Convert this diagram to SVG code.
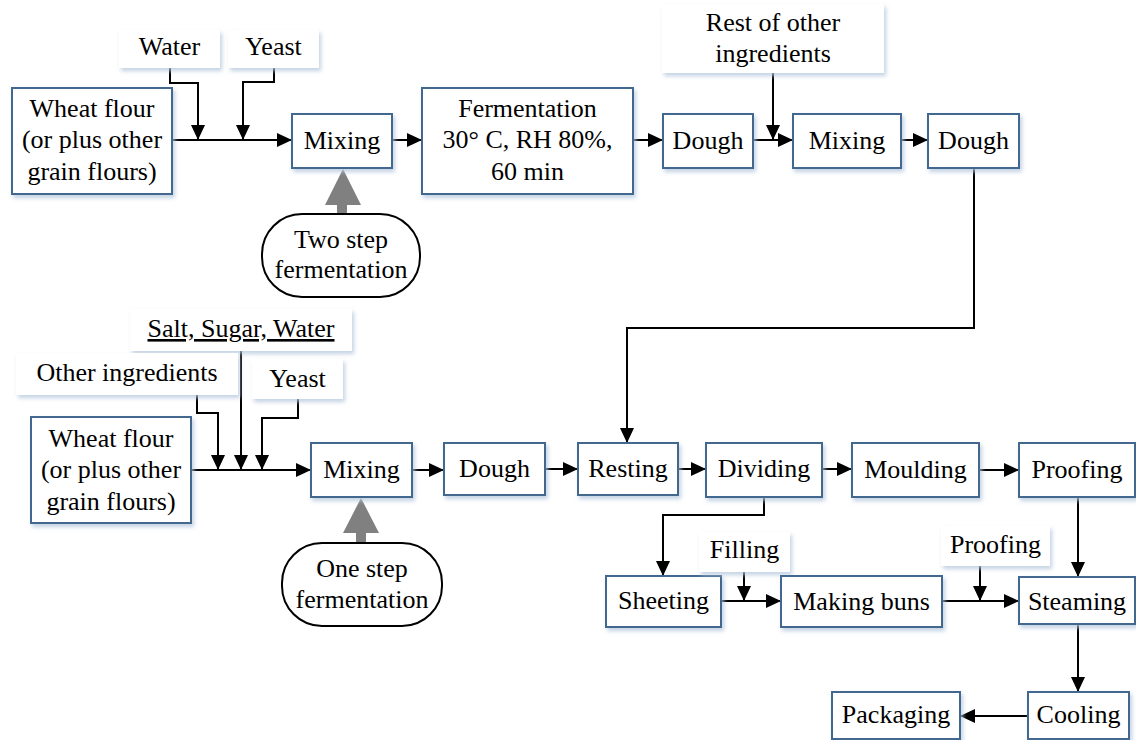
<svg xmlns="http://www.w3.org/2000/svg" width="1136" height="740" viewBox="0 0 1136 740">
<style>
.box{fill:#fff;stroke:#42678f;stroke-width:2;filter:url(#sh)}
.lbl{fill:#fff;stroke:none;filter:url(#sh)}
.oval{fill:#fff;stroke:#000;stroke-width:2}
.t{font-family:'Liberation Serif','DejaVu Serif',serif;font-size:26px;fill:#000;text-anchor:middle}
.ln{fill:none;stroke:#000;stroke-width:2}
.ar{fill:none;stroke:#000;stroke-width:2;marker-end:url(#ah)}
.gray{fill:#808080;stroke:none}
</style>
<defs>
<filter id="sh" x="-10%" y="-10%" width="130%" height="140%">
<feDropShadow dx="2" dy="3" stdDeviation="2" flood-color="#b4c6dc" flood-opacity="0.8"/>
</filter>
<marker id="ah" markerUnits="userSpaceOnUse" markerWidth="15" markerHeight="14" refX="14" refY="7" orient="auto">
<path d="M0,0 L15,7 L0,14 z" fill="#000"/>
</marker>
</defs>
<rect width="1136" height="740" fill="#fff"/>

<g id="connectors">
<polyline class="ar" points="170,68 170,83 198,83 198,139"/>
<polyline class="ar" points="274,68 274,82 243,82 243,139"/>
<line class="ar" x1="172" y1="140" x2="291" y2="140"/>
<line class="ar" x1="392" y1="140" x2="421" y2="140"/>
<line class="ar" x1="633" y1="140" x2="662" y2="140"/>
<line class="ar" x1="773" y1="73" x2="773" y2="139"/>
<line class="ar" x1="753" y1="140" x2="792" y2="140"/>
<line class="ar" x1="901" y1="140" x2="927" y2="140"/>
<polyline class="ar" points="974,168 974,328 627,328 627,442"/>
<polyline class="ar" points="197,395 197,413 218,413 218,469"/>
<line class="ar" x1="241" y1="351" x2="241" y2="469"/>
<polyline class="ar" points="298,399 298,418 262,418 262,469"/>
<line class="ar" x1="191" y1="470" x2="310" y2="470"/>
<line class="ar" x1="412" y1="470" x2="443" y2="470"/>
<line class="ar" x1="545" y1="469" x2="577" y2="469"/>
<line class="ar" x1="678" y1="469" x2="705" y2="469"/>
<line class="ar" x1="822" y1="469" x2="851" y2="469"/>
<line class="ar" x1="979" y1="470" x2="1018" y2="470"/>
<polyline class="ar" points="764,497 764,515 663,515 663,575"/>
<line class="ar" x1="744" y1="572" x2="744" y2="600"/>
<line class="ar" x1="721" y1="601" x2="780" y2="601"/>
<line class="ar" x1="980" y1="566" x2="980" y2="600"/>
<line class="ar" x1="942" y1="601" x2="1018" y2="601"/>
<line class="ar" x1="1078" y1="497" x2="1078" y2="576"/>
<line class="ar" x1="1078" y1="624" x2="1078" y2="691"/>
<line class="ar" x1="1028" y1="716" x2="961" y2="716"/>
<path class="gray" d="M337,218 L337,205 L325,205 L343,169 L361,205 L347,205 L347,218 Q342,222 337,218 z"/>
<path class="gray" d="M356,547 L356,533 L343,533 L361,498 L379,533 L366,533 L366,547 Q361,551 356,547 z"/>
</g>

<g id="water-top"><rect class="lbl" x="119" y="30" width="101" height="38"/><text class="t" x="169.5" y="55">Water</text></g>
<g id="yeast-top"><rect class="lbl" x="228" y="30" width="91" height="38"/><text class="t" x="273.5" y="55">Yeast</text></g>
<g id="flour-top"><rect class="box" x="12" y="88" width="160" height="106"/>
<text class="t" x="92" y="117">Wheat flour</text><text class="t" x="92" y="148">(or plus other</text><text class="t" x="92" y="180">grain flours)</text></g>
<g id="mixing-top"><rect class="box" x="292" y="114" width="100" height="54"/><text class="t" x="342" y="149">Mixing</text></g>
<g id="two-step"><rect class="oval" x="262" y="214" width="158" height="83" rx="40" ry="40"/>
<text class="t" x="341" y="248">Two step</text><text class="t" x="341" y="278">fermentation</text></g>
<g id="fermentation"><rect class="box" x="422" y="88" width="211" height="106"/>
<text class="t" x="527.5" y="117">Fermentation</text><text class="t" x="527.5" y="148">30° C, RH 80%,</text><text class="t" x="527.5" y="180">60 min</text></g>
<g id="dough-top1"><rect class="box" x="663" y="114" width="90" height="54"/><text class="t" x="708" y="149">Dough</text></g>
<g id="rest-ingredients"><rect class="lbl" x="662" y="4" width="222" height="69"/>
<text class="t" x="773" y="31">Rest of other</text><text class="t" x="773" y="62">ingredients</text></g>
<g id="mixing-top2"><rect class="box" x="793" y="114" width="108" height="54"/><text class="t" x="847" y="149">Mixing</text></g>
<g id="dough-top2"><rect class="box" x="928" y="114" width="91" height="54"/><text class="t" x="973.5" y="149">Dough</text></g>

<g id="salt-sugar-water"><rect class="lbl" x="130" y="309" width="222" height="42"/>
<text class="t" x="241" y="337" text-decoration="underline">Salt, Sugar, Water</text></g>
<g id="other-ingredients"><rect class="lbl" x="16" y="353" width="222" height="42"/><text class="t" x="127" y="381">Other ingredients</text></g>
<g id="yeast-bottom"><rect class="lbl" x="252" y="359" width="91" height="40"/><text class="t" x="297.5" y="387">Yeast</text></g>
<g id="flour-bottom"><rect class="box" x="31" y="417" width="160" height="106"/>
<text class="t" x="111" y="447">Wheat flour</text><text class="t" x="111" y="478">(or plus other</text><text class="t" x="111" y="510">grain flours)</text></g>
<g id="mixing-bottom"><rect class="box" x="311" y="443" width="101" height="54"/><text class="t" x="361.5" y="478">Mixing</text></g>
<g id="one-step"><rect class="oval" x="282" y="543" width="160" height="83" rx="40" ry="40"/>
<text class="t" x="362" y="577">One step</text><text class="t" x="362" y="608">fermentation</text></g>
<g id="dough-bottom"><rect class="box" x="444" y="443" width="101" height="52"/><text class="t" x="494.5" y="477">Dough</text></g>
<g id="resting"><rect class="box" x="578" y="443" width="100" height="52"/><text class="t" x="628" y="477">Resting</text></g>
<g id="dividing"><rect class="box" x="706" y="443" width="116" height="54"/><text class="t" x="764" y="477">Dividing</text></g>
<g id="moulding"><rect class="box" x="852" y="443" width="127" height="54"/><text class="t" x="915.5" y="478">Moulding</text></g>
<g id="proofing"><rect class="box" x="1019" y="443" width="116" height="54"/><text class="t" x="1077" y="478">Proofing</text></g>
<g id="sheeting"><rect class="box" x="606" y="576" width="115" height="51"/><text class="t" x="663.5" y="609">Sheeting</text></g>
<g id="filling"><rect class="lbl" x="699" y="532" width="91" height="40"/><text class="t" x="744.5" y="558">Filling</text></g>
<g id="making-buns"><rect class="box" x="781" y="576" width="161" height="51"/><text class="t" x="861.5" y="610">Making buns</text></g>
<g id="proofing-label"><rect class="lbl" x="941" y="526" width="109" height="40"/><text class="t" x="995.5" y="553">Proofing</text></g>
<g id="steaming"><rect class="box" x="1019" y="577" width="116" height="47"/><text class="t" x="1077" y="610">Steaming</text></g>
<g id="cooling"><rect class="box" x="1028" y="692" width="101" height="47"/><text class="t" x="1078.5" y="723">Cooling</text></g>
<g id="packaging"><rect class="box" x="832" y="692" width="128" height="47"/><text class="t" x="896" y="723">Packaging</text></g>
</svg>
